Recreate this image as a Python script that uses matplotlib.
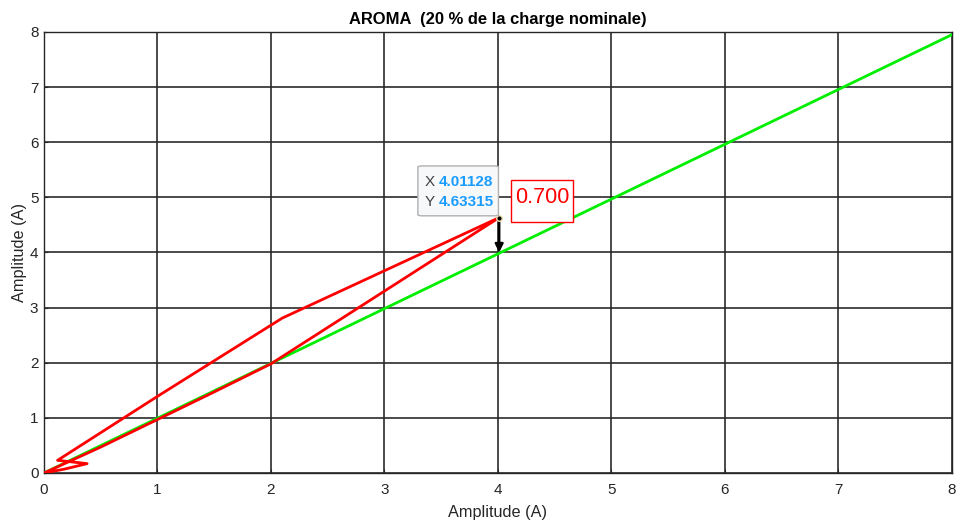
import numpy as np
import matplotlib.pyplot as plt
from matplotlib.patches import FancyBboxPatch, Rectangle

plt.rcParams['font.family'] = ['Liberation Sans', 'DejaVu Sans']

# red loop (current locus)
red_x = [0.0, 0.5, 1.0, 1.5, 2.0, 4.01128, 2.1, 1.0, 0.12, 0.38, 0.18, 0.0]
red_y = [0.0, 0.47, 0.97, 1.47, 1.98, 4.63315, 2.81, 1.39, 0.23, 0.17, 0.07, 0.0]

# green reference line
green_x = [0.0, 8.0]
green_y = [0.0, 7.95]

tip_x, tip_y = 4.01128, 4.63315
arrow_end_y = 4.0
ratio_text = '0.700'

fig = plt.figure(figsize=(9.56, 5.20), dpi=100)
ax = fig.add_axes([0.046, 0.0904, 0.9496, 0.8481])

ax.plot(green_x, green_y, color='#00ee00', lw=2, zorder=3)
ax.plot(red_x, red_y, color='#ff0000', lw=2, zorder=4)

ax.set_xlim(0, 8)
ax.set_ylim(0, 8)
ax.set_xticks(range(0, 9))
ax.set_yticks(range(0, 9))
ax.grid(True, color='#262626', lw=1.3, alpha=0.9)
ax.set_axisbelow(True)
ax.tick_params(direction='in', length=3, labelsize=11, colors='#262626')
ax.tick_params(axis='x', pad=7)
ax.tick_params(axis='y', pad=4)
for s in ax.spines.values():
    s.set_color('#262626')
    s.set_linewidth(1.0)

ax.set_xlabel('Amplitude (A)', fontsize=11.7, color='#262626', labelpad=6)
ax.set_ylabel('Amplitude (A)', fontsize=11.7, color='#262626', labelpad=2)
ax.set_title('AROMA  (20 % de la charge nominale)', fontsize=11.9, fontweight='bold', pad=6)

# arrow from data tip down to the reference line
ax.annotate('', xy=(tip_x, arrow_end_y), xytext=(tip_x, tip_y),
            arrowprops=dict(arrowstyle='-|>', color='black', lw=1.8, mutation_scale=12,
                            shrinkA=0, shrinkB=0), zorder=6)
ax.plot([tip_x], [tip_y], marker='o', ms=4, color='black', mec='#f0e0b0', zorder=7)

# data tip box
ax.text(3.355, 5.28, 'X', fontsize=11, color='#404040', ha='left', va='center', zorder=9)
ax.text(3.48, 5.28, '%.5f' % tip_x, fontsize=11, color='#1a9cff', fontweight='bold',
        ha='left', va='center', zorder=9)
ax.text(3.355, 4.915, 'Y', fontsize=11, color='#404040', ha='left', va='center', zorder=9)
ax.text(3.48, 4.915, '%.5f' % tip_y, fontsize=11, color='#1a9cff', fontweight='bold',
        ha='left', va='center', zorder=9)
box = FancyBboxPatch((3.295, 4.665), 0.71, 0.905, boxstyle='round,pad=0,rounding_size=0.04',
                     fc='#f7f8fa', ec='#b0b0b0', lw=1, zorder=8, mutation_aspect=0.5)
ax.add_patch(box)

# ratio label
ax.add_patch(Rectangle((4.115, 4.555), 0.55, 0.76, fc='white', ec='#ff0000', lw=1, zorder=8))
ax.text(4.39, 5.0, ratio_text, fontsize=15.5, color='#ff0000', ha='center', va='center', zorder=9)

fig.savefig('out.png', dpi=100)
